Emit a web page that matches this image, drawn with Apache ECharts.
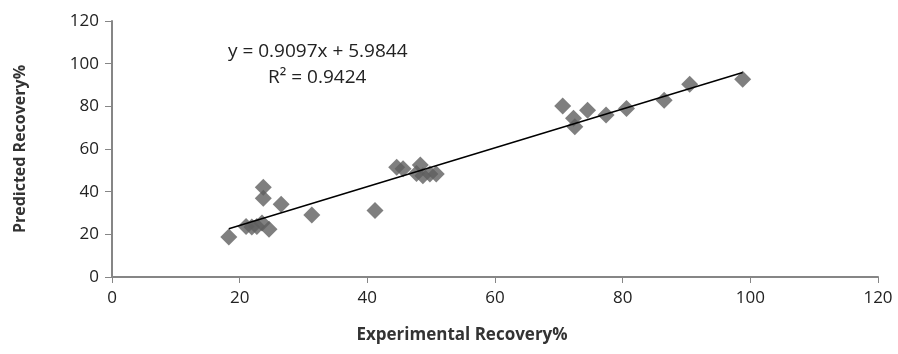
<!DOCTYPE html>
<html>
<head>
<meta charset="utf-8">
<script src="https://cdn.jsdelivr.net/npm/echarts@6/dist/echarts.min.js"></script>
<style>
  html, body { margin: 0; padding: 0; background: #fff; }
  #chart { width: 898px; height: 354px; }
</style>
</head>
<body>
<div id="chart"></div>
<script>
// experimental vs predicted recovery (%)
const expX = [18.3, 21.0, 21.9, 22.7, 23.5, 24.6, 23.7, 23.7, 26.5, 31.3, 41.2,
  44.6, 45.6, 48.3, 47.7, 48.7, 49.8, 50.8,
  70.6, 72.3, 72.5, 74.5, 77.4, 80.6, 86.5, 90.5, 98.8];
const predY = [18.8, 23.7, 23.4, 23.7, 25.3, 22.4, 42.1, 36.9, 34.1, 29.1, 31.2,
  51.4, 50.8, 52.5, 48.5, 47.5, 48.3, 48.3,
  80.1, 74.4, 70.4, 78.2, 75.9, 79.0, 82.9, 90.3, 92.7];
const xTicks = [0, 20, 40, 60, 80, 100, 120];
const yTicks = [0, 20, 40, 60, 80, 100, 120];
// linear fit shown on the chart
const slope = 0.9097;
const intercept = 5.9844;
const r2 = 0.9424;

const points = expX.map((x, i) => [x, predY[i]]);
const xMin = Math.min.apply(null, expX);
const xMax = Math.max.apply(null, expX);
const trend = [[xMin, slope * xMin + intercept], [xMax, slope * xMax + intercept]];

const font = 'Open Sans';
const axisColor = '#868686';

const chart = echarts.init(document.getElementById('chart'));
chart.setOption({
  animation: false,
  grid: { left: 112, right: 20, top: 21, bottom: 77 },
  xAxis: {
    type: 'value',
    min: xTicks[0],
    max: xTicks[xTicks.length - 1],
    interval: 20,
    name: 'Experimental Recovery%',
    nameLocation: 'middle',
    nameGap: 50,
    nameTextStyle: { fontFamily: font, fontWeight: 'bold', fontSize: 17, color: '#333', padding: [0, 66, 0, 0] },
    axisLine: { lineStyle: { color: axisColor, width: 2 } },
    axisTick: { show: true, length: 6, lineStyle: { color: axisColor, width: 1 } },
    axisLabel: { fontFamily: font, fontSize: 17, color: '#222', margin: 13 },
    splitLine: { show: false }
  },
  yAxis: {
    type: 'value',
    min: yTicks[0],
    max: yTicks[yTicks.length - 1],
    interval: 20,
    name: 'Predicted Recovery%',
    nameLocation: 'middle',
    nameGap: 84,
    nameTextStyle: { fontFamily: font, fontWeight: 'bold', fontSize: 16, color: '#333' },
    axisLine: { show: true, lineStyle: { color: axisColor, width: 2 } },
    axisTick: { show: true, length: 7, lineStyle: { color: axisColor, width: 1 } },
    axisLabel: { fontFamily: font, fontSize: 17, color: '#222', margin: 13 },
    splitLine: { show: false }
  },
  graphic: [
    {
      type: 'text', left: 228, top: 42,
      style: { text: 'y = ' + slope + 'x + ' + intercept, font: '19px "Open Sans"', fill: '#222' }
    },
    {
      type: 'text', left: 268, top: 68,
      style: { text: 'R\u00b2 = ' + r2, font: '19px "Open Sans"', fill: '#222' }
    }
  ],
  series: [
    {
      type: 'scatter',
      data: points,
      symbol: 'diamond',
      symbolSize: 17,
      itemStyle: { color: '#5f5f5f' },
      z: 2
    },
    {
      type: 'line',
      data: trend,
      symbol: 'none',
      lineStyle: { color: '#000', width: 1.5 },
      z: 3
    }
  ]
});
</script>
</body>
</html>
